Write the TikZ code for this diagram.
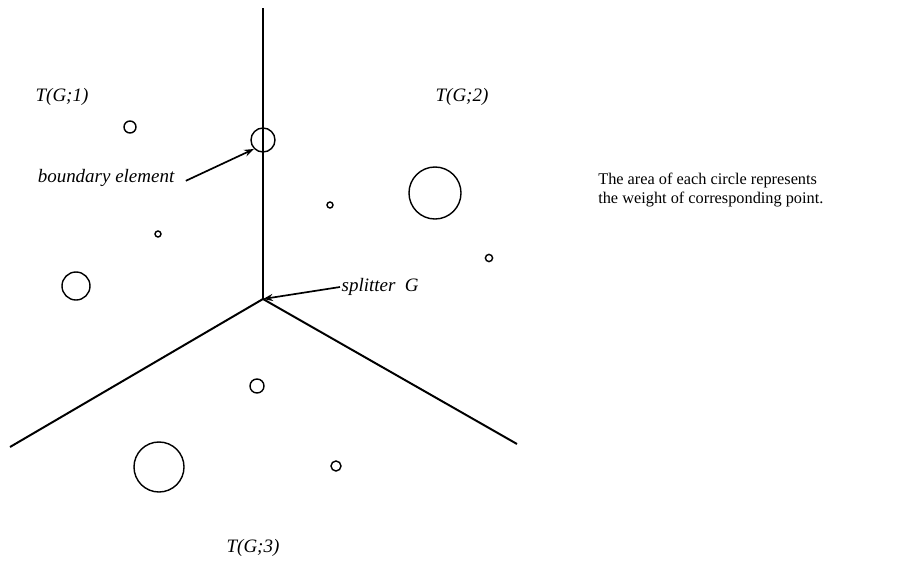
\documentclass[tikz,border=0pt]{standalone}
\usepackage{fontspec}
\setmainfont{Liberation Serif}
\usepackage{tikz}
\usetikzlibrary{positioning,arrows.meta}
\tikzset{
  pt/.style={circle, draw, line width=1pt, inner sep=0pt},
  reg/.style={font=\fontsize{13.5}{15}\selectfont\itshape},
  lbl/.style={font=\fontsize{13.5}{15}\selectfont\itshape, inner sep=1pt},
  ptr/.style={-{Stealth[length=7pt,width=5pt,open]}, line width=1.2pt},
  ln/.style={line width=1.4pt},
  splitpic/.style={x=0.025cm, y=-0.025cm}
}

\begin{document}
\begin{tikzpicture}[splitpic]
        \useasboundingbox (0,0) rectangle (908,560);
        % splitter and the three rays
        \coordinate (g) at (263,299);
        \coordinate (top) at (263,8);
        \coordinate (lft) at (10,447);
        \coordinate (rgt) at (517,444);
        \draw[ln] (g)--(top);
        \draw[ln] (g)--(lft);
        \draw[ln] (g)--(rgt);
        % weighted points
        \node[pt, minimum size=0.30cm] (p1) at (130,127) {};
        \node[pt, minimum size=0.60cm] (be) at (263,140) {};
        \node[pt, minimum size=0.15cm] (p2) at (330,205) {};
        \node[pt, minimum size=0.15cm] (p3) at (158,234) {};
        \node[pt, minimum size=1.30cm] (p4) at (435,193) {};
        \node[pt, minimum size=0.18cm] (p5) at (489,258) {};
        \node[pt, minimum size=0.70cm] (p6) at (76,286) {};
        \node[pt, minimum size=0.35cm] (p7) at (257,386) {};
        \node[pt, minimum size=1.25cm] (p8) at (159,467) {};
        \node[pt, minimum size=0.25cm] (p9) at (336,466) {};
        % region names
        \node[reg] (t1) at (62,97) {T(G;1)};
        \node[reg] (t2) at (462,97) {T(G;2)};
        \node[reg] (t3) at (253,548) {T(G;3)};
        % pointers
        \node[lbl, anchor=east] (bl) at (176,178) {boundary element};
        \node[lbl, anchor=west] (sl) at (340,287) {splitter\ \ G};
        \draw[ptr] ([xshift=7pt,yshift=-2pt]bl.east)--(be.south west);
        \draw[ptr] (sl.west)--(g);
        \node[anchor=north west, align=left, inner sep=0pt,
              font=\fontsize{11.6}{13}\selectfont] (note) at (598,173)
              {The area of each circle represents\\the weight of corresponding point.};
      \end{tikzpicture}
\end{document}
